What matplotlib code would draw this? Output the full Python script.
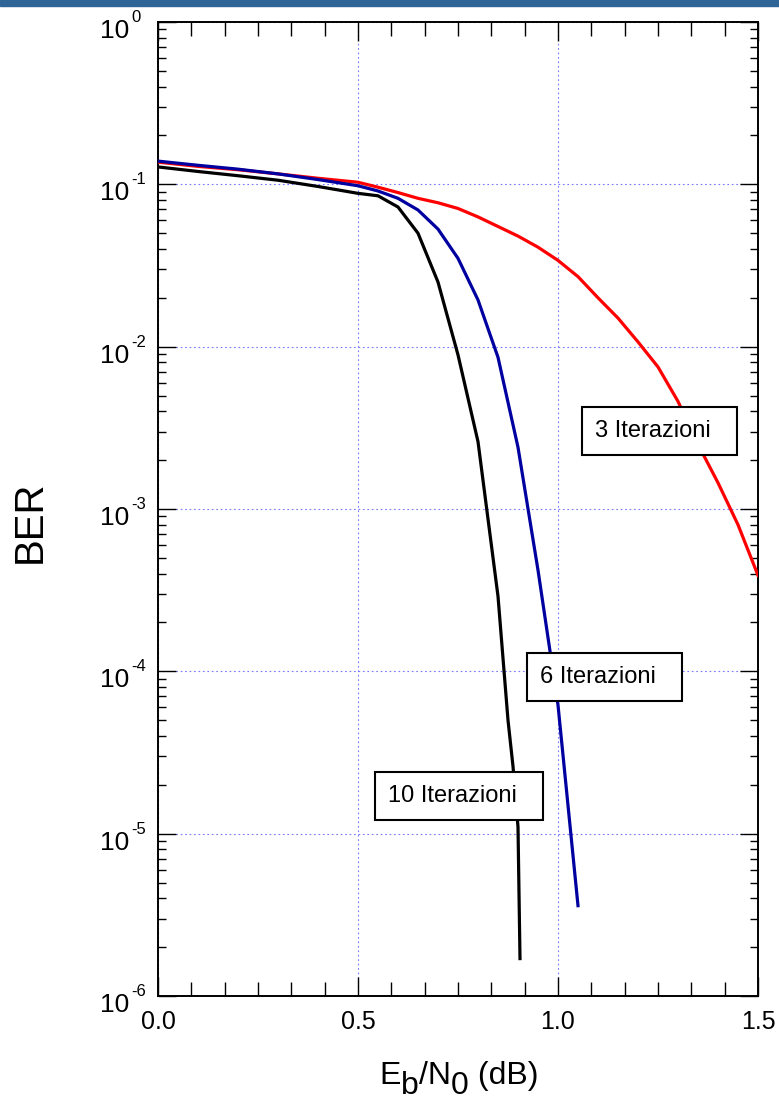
import numpy as np
import matplotlib
matplotlib.use("Agg")
import matplotlib.pyplot as plt
from matplotlib.ticker import LogLocator, FixedLocator, NullFormatter

# BER curves of the turbo decoder for different numbers of iterations
ebn0_3 = [0.0, 0.1, 0.2, 0.3, 0.4, 0.5, 0.55, 0.6, 0.65, 0.7, 0.75, 0.8, 0.85, 0.9,
          0.95, 1.0, 1.05, 1.1, 1.15, 1.2, 1.25, 1.3, 1.35, 1.4, 1.45, 1.5]
ber_3 = [0.137, 0.129, 0.123, 0.116, 0.109, 0.103, 0.096, 0.089, 0.082, 0.077, 0.071,
         0.063, 0.055, 0.048, 0.041, 0.034, 0.027, 0.020, 0.015, 0.0107, 0.0075,
         0.0046, 0.0025, 0.00145, 0.0008, 0.00039]

ebn0_6 = [0.0, 0.1, 0.2, 0.3, 0.4, 0.5, 0.55, 0.6, 0.65, 0.7, 0.75, 0.8, 0.85, 0.9,
          0.95, 1.0, 1.05]
ber_6 = [0.139, 0.131, 0.124, 0.116, 0.107, 0.098, 0.091, 0.082, 0.0695, 0.053, 0.035,
         0.0194, 0.0086, 0.0024, 4.2e-4, 6.2e-5, 3.6e-6]

ebn0_10 = [0.0, 0.1, 0.2, 0.3, 0.4, 0.5, 0.55, 0.6, 0.65, 0.7, 0.75, 0.8, 0.85, 0.875,
           0.8875, 0.9, 0.905]
ber_10 = [0.128, 0.120, 0.113, 0.106, 0.097, 0.088, 0.085, 0.0725, 0.050, 0.025, 0.0089,
          0.0026, 2.9e-4, 5e-5, 2.6e-5, 1.1e-5, 1.7e-6]

labels = ["3 Iterazioni", "6 Iterazioni", "10 Iterazioni"]
label_pos = [(1.0925, 3.02e-3), (0.955, 9.2e-5), (0.575, 1.71e-5)]

x_major = [0.0, 0.5, 1.0, 1.5]
x_ticklabels = ["0.0", "0.5", "1.0", "1.5"]
decades = [0, -1, -2, -3, -4, -5, -6]

plt.rcParams["font.family"] = ["Liberation Sans", "DejaVu Sans"]

W, H = 779, 1101
fig = plt.figure(figsize=(W / 100, H / 100), dpi=100)

# header bar
fig.patches.append(plt.Rectangle((0, 1 - 6 / H), 1, 6 / H,
                                 transform=fig.transFigure, color="#2F6596",
                                 zorder=0))

ax = fig.add_axes([158 / W, 105 / H, 600 / W, 974 / H])

ax.plot(ebn0_3, ber_3, color="#FF0000", linewidth=2.3, zorder=3)
ax.plot(ebn0_6, ber_6, color="#0000A0", linewidth=2.3, zorder=3)
ax.plot(ebn0_10, ber_10, color="black", linewidth=2.3, zorder=3)

ax.set_yscale("log")
ax.set_xlim(0, 1.5)
ax.set_ylim(1e-6, 1)

ax.xaxis.set_major_locator(FixedLocator(x_major))
ax.xaxis.set_minor_locator(FixedLocator(np.arange(0, 1.5001, 1 / 12)))
ax.set_xticklabels(x_ticklabels)
ax.yaxis.set_major_locator(LogLocator(base=10, numticks=10))
ax.yaxis.set_minor_locator(LogLocator(base=10, subs=np.arange(2, 10), numticks=10))
ax.yaxis.set_minor_formatter(NullFormatter())
ax.yaxis.set_major_formatter(NullFormatter())

ax.tick_params(axis="both", which="both", direction="in", top=True, right=True,
               color="black")
ax.tick_params(axis="x", which="major", length=14, width=1.0, pad=10, labelsize=18)
ax.tick_params(axis="x", which="minor", length=10, width=1.0)
ax.tick_params(axis="y", which="major", length=13, width=1.0)
ax.tick_params(axis="y", which="minor", length=6, width=1.0)

for s in ax.spines.values():
    s.set_linewidth(1.4)

ax.grid(True, which="major", color="#7777FF", linestyle=(0, (1.5, 2.5)), linewidth=0.8)
ax.set_axisbelow(True)

# y tick labels: 10 with a raised exponent
for d in decades:
    ax.annotate("10", xy=(0, 10.0 ** d), xycoords=("axes fraction", "data"),
                xytext=(-20.9, -11.5), textcoords="offset points",
                ha="right", va="baseline", fontsize=19, annotation_clip=False)
    ax.annotate(str(d), xy=(0, 10.0 ** d), xycoords=("axes fraction", "data"),
                xytext=(-19.4, 0), textcoords="offset points",
                ha="left", va="baseline", fontsize=12, annotation_clip=False)

# x label E_b/N_0 (dB) with full-size lowered subscripts
pieces = [("E", 0), ("b", -10), ("/N", 0), ("0", -10), (" (dB)", 0)]
renderer = fig.canvas.get_renderer()
texts = []
total = 0.0
for s, dy in pieces:
    t = fig.text(0, 0, s, fontsize=23, ha="left", va="baseline")
    w = t.get_window_extent(renderer).width
    texts.append((t, w, dy))
    total += w
x0 = 459 - total / 2
base = H - 1084
for t, w, dy in texts:
    t.set_position((x0 / W, (base + dy) / H))
    x0 += w

fig.text(30 / W, 1 - 522 / H, "BER", fontsize=29, rotation=90,
         ha="center", va="center")

for txt, (x, y) in zip(labels, label_pos):
    ax.text(x, y, txt + "  ", fontsize=17, ha="left", va="center",
            zorder=5,
            bbox=dict(boxstyle="square,pad=0.55", facecolor="white",
                      edgecolor="black", linewidth=1.5))

fig.savefig("out.png", dpi=100)
